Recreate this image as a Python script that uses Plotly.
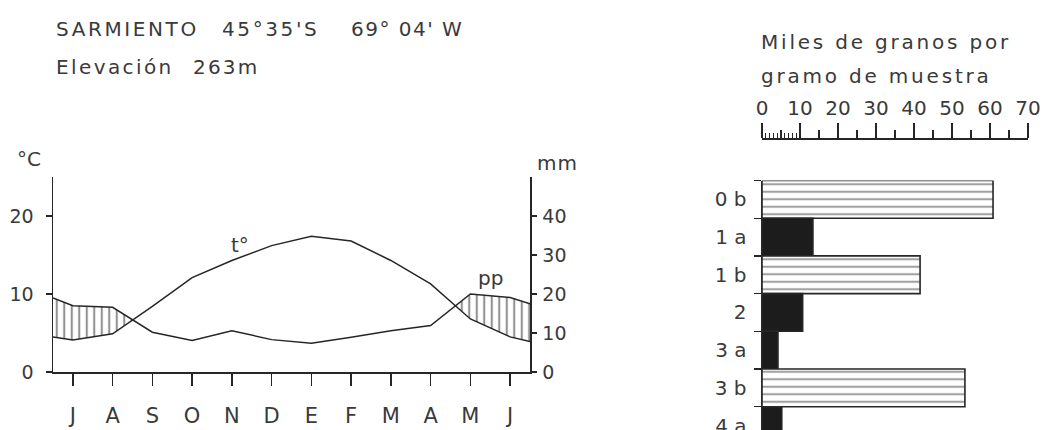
import numpy as np
import plotly.graph_objects as go

# ---------------- data ----------------
months = ["J", "A", "S", "O", "N", "D", "E", "F", "M", "A", "M", "J"]
# mean monthly temperature (°C), July .. June
temp_c = [4.1, 4.9, 8.4, 12.1, 14.3, 16.2, 17.4, 16.8, 14.3, 11.3, 6.8, 4.5]
# mean monthly precipitation (mm), July .. June
precip_mm = [17.0, 16.6, 10.2, 8.1, 10.6, 8.3, 7.4, 8.9, 10.6, 11.9, 20.0, 19.1]
# curve values where they meet the left / right frame
temp_edges = [4.5, 3.9]
precip_edges = [19.0, 17.5]

temp_ticks = [0, 10, 20]
mm_ticks = [0, 10, 20, 30, 40]

levels = ["0 b", "1 a", "1 b", "2", "3 a", "3 b", "4 a"]
pollen_k = [60.8, 13.4, 41.6, 10.7, 4.2, 53.4, 5.2]
hatched = [True, False, True, False, False, True, False]
pollen_ticks = [0, 10, 20, 30, 40, 50, 60, 70]

# ---------------- styling ----------------
INK = "#262626"
TXT = "#3a3a3a"
FONT = "DejaVu Sans, Liberation Sans, sans-serif"
W, H = 1044, 430


def px_x(p):
    return p / W


def px_y(p):
    return 1 - p / H


def spaced(s, ls=2.5):
    return '<span style="letter-spacing:%spx">%s</span>' % (ls, s)


# left chart geometry (pixels)
LX0, LX1 = 53, 530
LY_TOP, LY_BOT = 177, 372
T_RANGE = [0, 25.0]
MM_RANGE = [0, 50.0]

# right chart geometry (pixels)
RX0, RX1 = 762, 1028
RY_TOP = 180.5
RAXIS_Y = 138
CAT_PX = 37.7

fig = go.Figure()

# --- climate diagram ---
xpos = [0.0] + [i + 0.5 for i in range(len(months))] + [float(len(months))]
t_all = np.array([temp_edges[0]] + temp_c + [temp_edges[1]])
p_all = np.array([precip_edges[0]] + precip_mm + [precip_edges[1]]) / 2.0  # 1 °C = 2 mm

hx, lo, hi = [], [], []
for i in range(len(xpos) - 1):
    hx.append(xpos[i]); lo.append(t_all[i]); hi.append(max(t_all[i], p_all[i]))
    d0 = p_all[i] - t_all[i]
    d1 = p_all[i + 1] - t_all[i + 1]
    if d0 * d1 < 0:
        f = d0 / (d0 - d1)
        xc = xpos[i] + f * (xpos[i + 1] - xpos[i])
        tc = t_all[i] + f * (t_all[i + 1] - t_all[i])
        hx.append(xc); lo.append(tc); hi.append(tc)
hx.append(xpos[-1]); lo.append(t_all[-1]); hi.append(max(t_all[-1], p_all[-1]))

fig.add_trace(go.Scatter(x=hx, y=lo, mode="lines", line=dict(width=0),
                         hoverinfo="skip", showlegend=False, xaxis="x", yaxis="y"))
fig.add_trace(go.Scatter(x=hx, y=hi, mode="lines", line=dict(width=0),
                         fill="tonexty", fillcolor="white",
                         fillpattern=dict(shape="|", size=7.5, solidity=0.28,
                                          fgcolor=INK, bgcolor="white", fillmode="overlay"),
                         hoverinfo="skip", showlegend=False, xaxis="x", yaxis="y"))

fig.add_trace(go.Scatter(x=xpos, y=t_all, mode="lines", name="t°",
                         line=dict(color=INK, width=1.5), showlegend=False,
                         xaxis="x", yaxis="y"))
fig.add_trace(go.Scatter(x=xpos, y=np.array([precip_edges[0]] + precip_mm + [precip_edges[1]]),
                         mode="lines", name="pp",
                         line=dict(color=INK, width=1.5), showlegend=False,
                         xaxis="x", yaxis="y2"))

# --- pollen bars ---
ypos = list(range(len(levels)))
fig.add_trace(go.Bar(
    x=pollen_k, y=ypos, orientation="h", width=1.0,
    marker=dict(
        color=["white" if h else "#1c1c1c" for h in hatched],
        line=dict(color=INK, width=1.6),
        pattern=dict(shape=["-" if h else "" for h in hatched],
                     size=7.5, solidity=0.28, fgcolor=INK, fillmode="overlay"),
    ),
    showlegend=False, xaxis="x2", yaxis="y3"))
# carrier for the fine-tick overlay axis
fig.add_trace(go.Scatter(x=[None], y=[None], mode="markers", showlegend=False,
                         hoverinfo="skip", xaxis="x3", yaxis="y3"))

axis_font = dict(family=FONT, size=19, color=TXT)

fig.update_layout(
    width=W, height=H,
    margin=dict(l=0, r=0, t=0, b=0, autoexpand=False),
    paper_bgcolor="white", plot_bgcolor="rgba(0,0,0,0)",
    showlegend=False,
    bargap=0,
    xaxis=dict(
        domain=[px_x(LX0), px_x(LX1)], range=[0, 12],
        tickvals=[i + 0.5 for i in range(len(months))], ticktext=months,
        ticks="outside", ticklen=12, tickcolor=INK, tickwidth=1.3,
        showline=True, linecolor=INK, linewidth=1.5,
        showgrid=False, zeroline=False, anchor="y", automargin=False,
        tickfont=dict(family=FONT, size=21, color=TXT), ticklabelstandoff=12,
    ),
    yaxis=dict(
        domain=[px_y(LY_BOT), px_y(LY_TOP)], range=T_RANGE,
        tickvals=temp_ticks, ticks="outside", ticklen=6, tickcolor=INK, tickwidth=1.3,
        showline=True, linecolor=INK, linewidth=1.5,
        showgrid=False, zeroline=False, anchor="x", automargin=False,
        tickfont=axis_font, ticklabelstandoff=8,
    ),
    yaxis2=dict(
        overlaying="y", side="right", anchor="x", range=MM_RANGE,
        tickvals=mm_ticks, ticks="outside", ticklen=5, tickcolor=INK, tickwidth=1.3,
        showline=True, linecolor=INK, linewidth=1.5,
        showgrid=False, zeroline=False, automargin=False,
        tickfont=axis_font, ticklabelstandoff=2,
    ),
    xaxis2=dict(
        domain=[px_x(RX0), px_x(RX1)], range=[0, 70],
        side="top", anchor="free", position=px_y(RAXIS_Y),
        tickvals=pollen_ticks, ticks="outside", ticklen=15, tickcolor=INK, tickwidth=1.3,
        minor=dict(tickvals=[5, 15, 25, 35, 45, 55, 65], ticks="outside", ticklen=8,
                   tickcolor=INK, tickwidth=1.2),
        showline=True, linecolor=INK, linewidth=1.5,
        showgrid=False, zeroline=False, automargin=False,
        tickfont=dict(family=FONT, size=20, color=TXT), ticklabelstandoff=0,
        ticklabeloverflow="allow",
    ),
    xaxis3=dict(
        overlaying="x2", range=[0, 70], side="top", anchor="free", position=px_y(RAXIS_Y),
        tickvals=[1, 2, 3, 4, 6, 7, 8, 9], ticks="outside", ticklen=5, tickcolor=INK,
        tickwidth=1.1, showticklabels=False, showline=False, showgrid=False, zeroline=False,
        automargin=False,
    ),
    yaxis3=dict(
        domain=[0, px_y(RY_TOP)],
        range=[(H - RY_TOP) / CAT_PX - 0.5, -0.5],
        tickvals=ypos, ticktext=levels, ticks="",
        minor=dict(tickvals=[i - 0.5 for i in range(len(levels) + 1)], ticks="outside",
                   ticklen=7, tickcolor=INK, tickwidth=1.3),
        showline=True, linecolor=INK, linewidth=1.5,
        showgrid=False, zeroline=False, anchor="x2", automargin=False,
        tickfont=dict(family=FONT, size=20, color=TXT), ticklabelstandoff=10,
        ticklabeloverflow="allow",
    ),
)

ann = []


def txt(s, x, y, size=20, xanchor="left", ls=2.5):
    ann.append(dict(text=spaced(s, ls) if ls else s, x=px_x(x), y=px_y(y),
                    xref="paper", yref="paper", borderpad=0,
                    xanchor=xanchor, yanchor="middle", showarrow=False,
                    font=dict(family=FONT, size=size, color=TXT)))


txt("SARMIENTO", 55, 29, 20, ls=2.6)
txt("45°35'S", 221, 29, 20, ls=2.6)
txt("69° 04' W", 350, 29, 20, ls=1.5)
txt("Elevación", 55, 67, 20, ls=2.4)
txt("263m", 192, 67, 20, ls=2.2)
txt("°C", 16, 159, 20, ls=0)
txt("mm", 536, 163, 20, ls=1)
txt("Miles de granos por", 760, 42, 20, ls=2.8)
txt("gramo de muestra", 760, 76, 20, ls=2.8)

ann.append(dict(text="t°", x=4.7, y=16.3, xref="x", yref="y", showarrow=False,
                font=dict(family=FONT, size=20, color=TXT)))
ann.append(dict(text="pp", x=11.0, y=12.0, xref="x", yref="y", showarrow=False,
                font=dict(family=FONT, size=20, color=TXT)))
fig.update_layout(annotations=ann)

fig.write_html(
    "out.html",
    config={"displayModeBar": False, "staticPlot": True},
    post_script="document.body.style.margin='0';document.body.style.overflow='hidden';",
)
